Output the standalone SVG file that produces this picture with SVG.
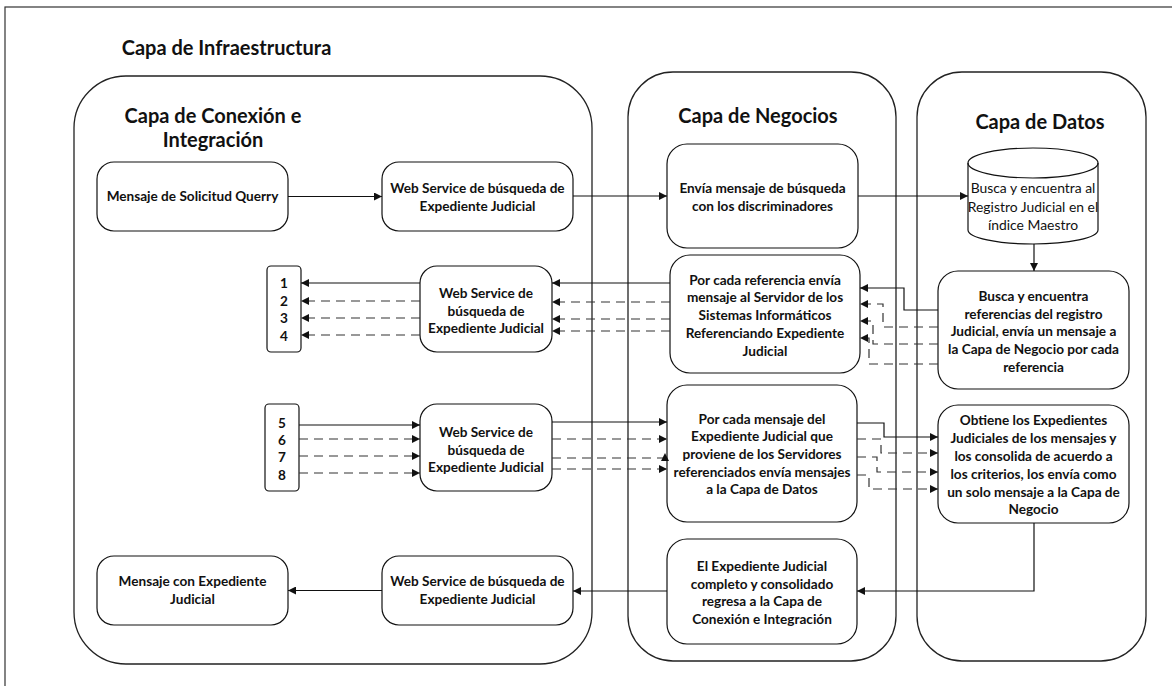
<svg xmlns="http://www.w3.org/2000/svg" width="1172" height="686" viewBox="0 0 1172 686">
  <style>
    .frame { fill: none; stroke: #333; stroke-width: 1.2; }
    .layer { fill: #fff; stroke: #222; stroke-width: 1.3; }
    .box { fill: #fff; stroke: #111; stroke-width: 1.2; }
    .title { font-family: Lato, "Liberation Sans", sans-serif; font-weight: bold; font-size: 20px; fill: #111; text-anchor: middle; }
    .label { font-family: Lato, "Liberation Sans", sans-serif; font-weight: bold; font-size: 13.6px; fill: #111; text-anchor: middle; }
    .plain { font-family: Lato, "Liberation Sans", sans-serif; font-size: 13.9px; fill: #111; text-anchor: middle; }
    .solid { fill: none; stroke: #111; stroke-width: 1.2; marker-end: url(#arrow); }
    .dash { fill: none; stroke: #333; stroke-width: 1.2; stroke-dasharray: 9 6; marker-end: url(#arrow); }
    .line { fill: none; stroke: #111; stroke-width: 1.2; }
  </style>
  <defs>
    <marker id="arrow" viewBox="0 0 10 10" refX="10" refY="5" markerWidth="8" markerHeight="8" markerUnits="userSpaceOnUse" orient="auto">
      <path d="M0,0 L10,5 L0,10 z" fill="#111"/>
    </marker>
  </defs>

  <rect width="1172" height="686" fill="#fff"/>
  <!-- outer frame, open to the right and bottom -->
  <rect class="frame" x="5" y="7" width="1200" height="720"/>
  <text class="title" x="226.5" y="55" font-size="19.4">Capa de Infraestructura</text>

  <!-- layer containers -->
  <g id="layer-conexion">
    <rect class="layer" x="74" y="76" width="518" height="588" rx="52"/>
    <text class="title" x="213" y="123">Capa de Conexión e</text>
    <text class="title" x="213" y="147">Integración</text>
  </g>
  <g id="layer-negocios">
    <rect class="layer" x="628" y="72" width="268" height="589" rx="45"/>
    <text class="title" x="758" y="123">Capa de Negocios</text>
  </g>
  <g id="layer-datos">
    <rect class="layer" x="917" y="72" width="229" height="589" rx="45"/>
    <text class="title" x="1040" y="129">Capa de Datos</text>
  </g>

  <!-- connection layer nodes -->
  <g id="n-solicitud">
    <rect class="box" x="97" y="162" width="191" height="69" rx="17"/>
    <text class="label" x="192.5" y="201">Mensaje de Solicitud Querry</text>
  </g>
  <g id="n-ws1">
    <rect class="box" x="382" y="162" width="191" height="69" rx="17"/>
    <text class="label" x="477.5" y="192.5">Web Service de búsqueda de</text>
    <text class="label" x="477.5" y="211">Expediente Judicial</text>
  </g>
  <g id="n-out14">
    <rect class="box" x="267" y="266" width="34" height="86" rx="4"/>
    <text class="label" x="284" y="287.5">1</text>
    <text class="label" x="284" y="305.5">2</text>
    <text class="label" x="284" y="322.5">3</text>
    <text class="label" x="284" y="340.5">4</text>
  </g>
  <g id="n-ws2">
    <rect class="box" x="420" y="266" width="132" height="86" rx="17"/>
    <text class="label" x="486" y="297.5">Web Service de</text>
    <text class="label" x="486" y="315.5">búsqueda de</text>
    <text class="label" x="486" y="333">Expediente Judicial</text>
  </g>
  <g id="n-in58">
    <rect class="box" x="265" y="404" width="34" height="87" rx="4"/>
    <text class="label" x="282" y="427.5">5</text>
    <text class="label" x="282" y="444.5">6</text>
    <text class="label" x="282" y="461.5">7</text>
    <text class="label" x="282" y="479.5">8</text>
  </g>
  <g id="n-ws3">
    <rect class="box" x="420" y="404" width="132" height="87" rx="17"/>
    <text class="label" x="486" y="436.5">Web Service de</text>
    <text class="label" x="486" y="454.5">búsqueda de</text>
    <text class="label" x="486" y="471.5">Expediente Judicial</text>
  </g>
  <g id="n-respuesta">
    <rect class="box" x="97" y="556" width="191" height="69" rx="17"/>
    <text class="label" x="192.5" y="586">Mensaje con Expediente</text>
    <text class="label" x="192.5" y="604">Judicial</text>
  </g>
  <g id="n-ws4">
    <rect class="box" x="382" y="556" width="191" height="69" rx="17"/>
    <text class="label" x="477.5" y="586">Web Service de búsqueda de</text>
    <text class="label" x="477.5" y="604">Expediente Judicial</text>
  </g>

  <!-- business layer nodes -->
  <g id="n-envia">
    <rect class="box" x="667" y="144" width="191" height="104" rx="20"/>
    <text class="label" x="762.5" y="192.5">Envía mensaje de búsqueda</text>
    <text class="label" x="762.5" y="211">con los discriminadores</text>
  </g>
  <g id="n-referencia">
    <rect class="box" x="670" y="255" width="190" height="118" rx="20"/>
    <text class="label" x="765" y="284.5">Por cada referencia envía</text>
    <text class="label" x="765" y="302">mensaje al Servidor de los</text>
    <text class="label" x="765" y="319.5">Sistemas Informáticos</text>
    <text class="label" x="765" y="337.5">Referenciando Expediente</text>
    <text class="label" x="765" y="355.5">Judicial</text>
  </g>
  <g id="n-mensaje">
    <rect class="box" x="667" y="385" width="190" height="137" rx="20"/>
    <text class="label" x="762" y="423.5">Por cada mensaje del</text>
    <text class="label" x="762" y="441">Expediente Judicial que</text>
    <text class="label" x="762" y="459">proviene de los Servidores</text>
    <text class="label" x="762" y="477">referenciados envía mensajes</text>
    <text class="label" x="762" y="494">a la Capa de Datos</text>
  </g>
  <g id="n-consolidado">
    <rect class="box" x="667" y="539" width="190" height="105" rx="20"/>
    <text class="label" x="762" y="570.5">El Expediente Judicial</text>
    <text class="label" x="762" y="588.5">completo y consolidado</text>
    <text class="label" x="762" y="605.5">regresa a la Capa de</text>
    <text class="label" x="762" y="623.5">Conexión e Integración</text>
  </g>

  <!-- data layer nodes -->
  <g id="n-indice">
    <path class="box" d="M968,163 A65,15 0 0 1 1098,163 V230 A65,14 0 0 1 968,230 Z"/>
    <path class="line" d="M968,163 A65,15 0 0 0 1098,163"/>
    <text class="plain" x="1033" y="192.5">Busca y encuentra al</text>
    <text class="plain" x="1033" y="211.5">Registro Judicial en el</text>
    <text class="plain" x="1033" y="229.5">índice Maestro</text>
  </g>
  <g id="n-busca">
    <rect class="box" x="938" y="271" width="191" height="118" rx="20"/>
    <text class="label" x="1033.5" y="300.5">Busca y encuentra</text>
    <text class="label" x="1033.5" y="318.5">referencias del registro</text>
    <text class="label" x="1033.5" y="335.5">Judicial, envía un mensaje a</text>
    <text class="label" x="1033.5" y="353.5">la Capa de Negocio por cada</text>
    <text class="label" x="1033.5" y="371.5">referencia</text>
  </g>
  <g id="n-obtiene">
    <rect class="box" x="938" y="405" width="191" height="118" rx="20"/>
    <text class="label" x="1033.5" y="425">Obtiene los Expedientes</text>
    <text class="label" x="1033.5" y="442.5">Judiciales de los mensajes y</text>
    <text class="label" x="1033.5" y="460.5">los consolida de acuerdo a</text>
    <text class="label" x="1033.5" y="478.5">los criterios, los envía como</text>
    <text class="label" x="1033.5" y="496.5">un solo mensaje a la Capa de</text>
    <text class="label" x="1033.5" y="513.5">Negocio</text>
  </g>

  <!-- connectors -->
  <g id="connectors">
    <path class="solid" d="M288,196.5 H382"/>
    <path class="solid" d="M573,196 H667"/>
    <path class="solid" d="M858,196 H968"/>
    <path class="solid" d="M1034,244 V271"/>

    <path class="solid" d="M938,310 H904 V288 H860"/>
    <path class="dash" d="M938,327 H883 V304 H860"/>
    <path class="dash" d="M938,344 H873 V321 H860"/>
    <path class="dash" d="M938,364 H869 V338 H860"/>

    <path class="solid" d="M670,283 H552"/>
    <path class="dash" d="M670,302 H552"/>
    <path class="dash" d="M670,319 H552"/>
    <path class="dash" d="M670,331 H552"/>

    <path class="solid" d="M420,283 H301"/>
    <path class="dash" d="M420,301 H301"/>
    <path class="dash" d="M420,318 H301"/>
    <path class="dash" d="M420,335 H301"/>

    <path class="solid" d="M299,425 H420"/>
    <path class="dash" d="M299,439 H420"/>
    <path class="dash" d="M299,456 H420"/>
    <path class="dash" d="M299,473 H420"/>

    <path class="solid" d="M552,422 H667"/>
    <path class="dash" d="M552,439 H667"/>
    <path class="dash" d="M552,458 H665 V453"/>
    <path class="dash" d="M552,469 H667"/>

    <path class="solid" d="M857,423 H884 V437 H938"/>
    <path class="dash" d="M857,439 H881 V453 H938"/>
    <path class="dash" d="M857,457 H877 V472 H938"/>
    <path class="dash" d="M857,475 H869 V489 H938"/>

    <path class="solid" d="M1034,523 V591 H857"/>
    <path class="solid" d="M667,591 H573"/>
    <path class="solid" d="M382,590.5 H288"/>
  </g>
</svg>
